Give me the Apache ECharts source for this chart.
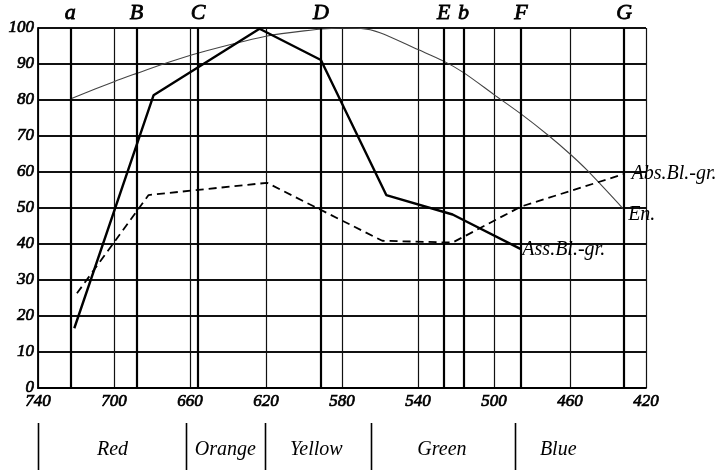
<!DOCTYPE html>
<html>
<head>
<meta charset="utf-8">
<script src="https://cdn.jsdelivr.net/npm/echarts@6/dist/echarts.min.js"></script>
<style>
  html, body { margin: 0; padding: 0; background: #fff; }
  #main { width: 728px; height: 470px; }
</style>
</head>
<body>
<div id="main"></div>
<script>
// wavelength axis runs 740 -> 420 (nm)
var waveTicks = [740, 700, 660, 620, 580, 540, 500, 460, 420];

// En. curve
var enNm  = [723, 700, 688, 674, 656, 620, 600, 580, 570, 560, 540, 526.5, 516, 500, 486, 471, 460, 451, 431.5];
var enVal = [80.3, 85.1, 87.4, 90, 93, 97.7, 99.2, 100, 99.9, 98.7, 94, 90.8, 87.6, 81.5, 76.2, 70, 65, 60.5, 49.5];

// Ass.Bl.-gr. (solid)
var assNm  = [720.9, 679.2, 623.4, 591.1, 556.7, 521.8, 485.6];
var assVal = [16.6, 81.3, 99.8, 91.1, 53.6, 48.2, 38.5];

// Abs.Bl.-gr. (dashed)
var absNm  = [719.5, 681.8, 619.5, 558.8, 521.8, 485.8, 431.8];
var absVal = [26.3, 53.6, 57.0, 40.9, 40.4, 50.4, 59.4];

// Fraunhofer lines
var fraunNames = ['a', 'B', 'C', 'D', 'E', 'b', 'F', 'G'];
var fraunNm    = [723, 688.2, 655.8, 591.1, 526.5, 516, 485.8, 431.5];

// colour bands under the axis
var bandEdges  = [740, 662, 620.7, 564.7, 489.2];
var bandNames  = ['Red', 'Orange', 'Yellow', 'Green', 'Blue'];
var bandCenter = [700.8, 641.4, 593.5, 527.4, 466.2];

var X0 = 740; // x value = 740 - wavelength
function pts(nm, val) {
  return nm.map(function (w, i) { return [X0 - w, val[i]]; });
}

var serif = 'Liberation Serif';
// no bold-italic face installed, so thicken the italic with a thin stroke
var tickFont = {
  fontFamily: serif, fontStyle: 'italic', fontSize: 17, color: '#000',
  textBorderColor: '#000', textBorderWidth: 0.7
};
var curveLabel = {
  show: true, fontFamily: serif, fontStyle: 'italic', fontSize: 20, color: '#000',
  formatter: function (p) { return p.seriesName; }
};

var chart = echarts.init(document.getElementById('main'), null, { renderer: 'canvas' });

var option = {
  animation: false,
  backgroundColor: '#fff',
  grid: { left: 38, right: 82, top: 28, bottom: 82 },
  xAxis: {
    type: 'value', min: 0, max: 320, interval: 40,
    axisLine: { show: true, lineStyle: { color: '#000', width: 1.8 } },
    axisTick: { show: false },
    axisLabel: Object.assign({ margin: 5, formatter: function (v) { return X0 - v; } }, tickFont),
    splitLine: { show: true, lineStyle: { color: '#111', width: 1.2 } }
  },
  yAxis: {
    type: 'value', min: 0, max: 100, interval: 10,
    axisLine: { show: true, lineStyle: { color: '#000', width: 1.8 } },
    axisTick: { show: false },
    axisLabel: Object.assign({ margin: 4 }, tickFont),
    splitLine: { show: true, lineStyle: { color: '#111', width: 1.8 } }
  },
  series: [
    {
      name: 'En.', type: 'line', data: pts(enNm, enVal), smooth: 0.3,
      symbol: 'none', lineStyle: { color: '#444', width: 1.1 },
      endLabel: Object.assign({ distance: 4, offset: [0, 5] }, curveLabel)
    },
    {
      name: 'Abs.Bl.-gr.', type: 'line', data: pts(absNm, absVal),
      symbol: 'none', lineStyle: { color: '#000', width: 1.8, type: [8, 5] },
      endLabel: Object.assign({ distance: 8 }, curveLabel)
    },
    {
      name: 'Ass.Bl.-gr.', type: 'line', data: pts(assNm, assVal),
      symbol: 'none', lineStyle: { color: '#000', width: 2.4 },
      endLabel: Object.assign({ distance: 1 }, curveLabel),
      markLine: {
        silent: true, symbol: 'none',
        lineStyle: { color: '#000', width: 2.2, type: 'solid' },
        label: {
          show: true, position: 'end', distance: 4,
          fontFamily: serif, fontStyle: 'italic', fontSize: 22, color: '#000',
          textBorderColor: '#000', textBorderWidth: 0.8,
          formatter: function (p) { return p.name; }
        },
        data: fraunNm.map(function (w, i) { return { name: fraunNames[i], xAxis: X0 - w }; })
      }
    }
  ]
};
chart.setOption(option);

// colour band bars and names below the axis
var graphics = [];
bandEdges.forEach(function (w) {
  var x = Math.round(chart.convertToPixel({ xAxisIndex: 0 }, X0 - w)) + 0.5;
  graphics.push({
    type: 'line', silent: true,
    shape: { x1: x, y1: 423, x2: x, y2: 470 },
    style: { stroke: '#000', lineWidth: 1.6 }
  });
});
bandNames.forEach(function (n, i) {
  var x = chart.convertToPixel({ xAxisIndex: 0 }, X0 - bandCenter[i]);
  graphics.push({
    type: 'text', silent: true, x: x, y: 450,
    style: {
      text: n, align: 'center', verticalAlign: 'middle',
      font: 'italic 20px "' + serif + '"', fill: '#000'
    }
  });
});
chart.setOption({ graphic: graphics });
</script>
</body>
</html>
